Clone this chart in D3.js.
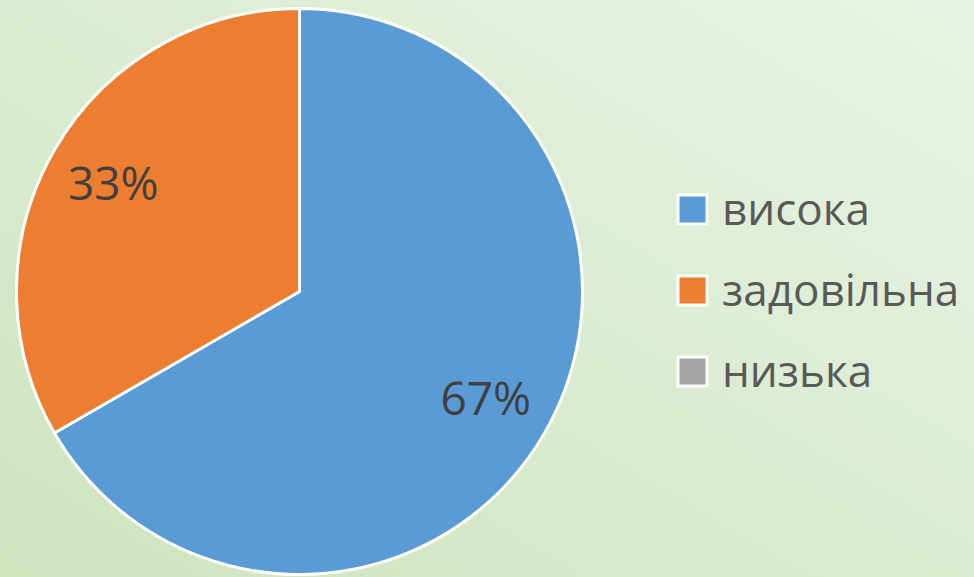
<!DOCTYPE html>
<html>
<head>
<meta charset="utf-8">
<script src="https://cdn.jsdelivr.net/npm/d3@7"></script>
<style>
  html, body { margin: 0; padding: 0; }
  svg { display: block; }
</style>
</head>
<body>
<svg id="chart" width="974" height="577"></svg>
<script>
// Дані (частки: 2/3 та 1/3)
const categories = ["висока", "задовільна", "низька"];
const values = [2, 1, 0];
const colors = ["#5b9bd5", "#ed7d31", "#a5a5a5"];

const svg = d3.select("#chart");
const width = +svg.attr("width"), height = +svg.attr("height");

// Фон з градієнтом
const defs = svg.append("defs");
const grad = defs.append("linearGradient")
    .attr("id", "bg")
    .attr("x1", "0%").attr("y1", "100%")
    .attr("x2", "100%").attr("y2", "0%");
grad.append("stop").attr("offset", "0%").attr("stop-color", "#cde4bd");
grad.append("stop").attr("offset", "100%").attr("stop-color", "#e9f3e5");
svg.append("rect").attr("width", width).attr("height", height).attr("fill", "url(#bg)");

const cx = 299.5, cy = 291.5, r = 283;
const g = svg.append("g").attr("transform", `translate(${cx},${cy})`);

const data = categories.map((c, i) => ({ name: c, value: values[i], color: colors[i] }));

const pie = d3.pie().sort(null).value(d => d.value);
const arc = d3.arc().innerRadius(0).outerRadius(r);
const labelArc = d3.arc().innerRadius(r * 0.76).outerRadius(r * 0.76);

const arcs = pie(data);

g.selectAll("path")
  .data(arcs.filter(d => d.data.value > 0))
  .enter()
  .append("path")
  .attr("d", arc)
  .attr("fill", d => d.data.color)
  .attr("stroke", "#fff")
  .attr("stroke-width", 3)
  .attr("stroke-linejoin", "round");

// Відсотки
const total = d3.sum(values);
g.selectAll("text.label")
  .data(arcs.filter(d => d.data.value > 0))
  .enter()
  .append("text")
  .attr("class", "label")
  .attr("transform", d => `translate(${labelArc.centroid(d)})`)
  .attr("text-anchor", "middle")
  .attr("dy", "0.35em")
  .attr("fill", "#404040")
  .style("font-family", "'Open Sans', sans-serif")
  .style("font-size", "46px")
  .text(d => Math.round(d.data.value / total * 100) + "%");

// Легенда
const legend = svg.append("g").attr("transform", "translate(678,195)");
data.forEach((d, i) => {
    const gl = legend.append("g").attr("transform", `translate(0,${i * 81})`);
    gl.append("rect")
      .attr("width", 29)
      .attr("height", 29)
      .attr("fill", d.color)
      .attr("stroke", "#fff")
      .attr("stroke-width", 3);
    gl.append("text")
      .attr("x", 44)
      .attr("y", 30)
      .attr("fill", "#595959")
      .style("font-family", "'Open Sans', sans-serif")
      .style("font-size", "44px")
      .text(d.name);
});
</script>
</body>
</html>
